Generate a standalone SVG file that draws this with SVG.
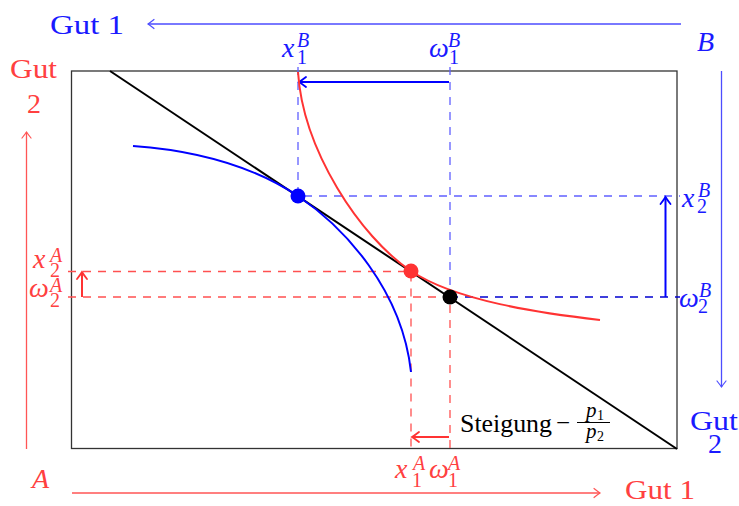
<svg xmlns="http://www.w3.org/2000/svg" width="739" height="506" viewBox="0 0 739 506">
<style>
text{font-family:"Liberation Serif","DejaVu Serif",serif;}
.m{font-style:italic;}
.big{font-size:28px;}
.sup{font-size:20px;}
.bl{fill:#1a1aff;}
.rd{fill:#ff4040;}
.dashB{stroke:#6060ff;stroke-width:1.3;stroke-dasharray:8 7;fill:none;}
.dashBd{stroke:#0000d0;stroke-width:1.3;stroke-dasharray:8 7;fill:none;}
.dashR{stroke:#ff5050;stroke-width:1.3;stroke-dasharray:8 7;fill:none;}
</style>
<defs>
<marker id="ab" viewBox="-9 -6 10 12" refX="0" refY="0" markerWidth="10" markerHeight="12" markerUnits="userSpaceOnUse" orient="auto" overflow="visible">
<path d="M-7 -5 Q-2.5 -1.5 0 0 Q-2.5 1.5 -7 5" fill="none" stroke="#0000ff" stroke-width="1.8" stroke-linecap="round"/>
</marker>
<marker id="abl" viewBox="-9 -6 10 12" refX="0" refY="0" markerWidth="10" markerHeight="12" markerUnits="userSpaceOnUse" orient="auto" overflow="visible">
<path d="M-6 -4.5 Q-2 -1.3 0 0 Q-2 1.3 -6 4.5" fill="none" stroke="#4d4dff" stroke-width="1.2" stroke-linecap="round"/>
</marker>
<marker id="ar" viewBox="-9 -6 10 12" refX="0" refY="0" markerWidth="10" markerHeight="12" markerUnits="userSpaceOnUse" orient="auto" overflow="visible">
<path d="M-7 -5 Q-2.5 -1.5 0 0 Q-2.5 1.5 -7 5" fill="none" stroke="#ff3333" stroke-width="1.8" stroke-linecap="round"/>
</marker>
<marker id="arl" viewBox="-9 -6 10 12" refX="0" refY="0" markerWidth="10" markerHeight="12" markerUnits="userSpaceOnUse" orient="auto" overflow="visible">
<path d="M-6 -4.5 Q-2 -1.3 0 0 Q-2 1.3 -6 4.5" fill="none" stroke="#ff5555" stroke-width="1.2" stroke-linecap="round"/>
</marker>
</defs>
<rect width="739" height="506" fill="#ffffff"/>

<g id="box">
<rect x="71.5" y="71" width="605.5" height="377.5" fill="none" stroke="#333333" stroke-width="1.3"/>
</g>

<g id="axes">
<line x1="681" y1="24" x2="148" y2="24" stroke="#4d4dff" stroke-width="1.3" marker-end="url(#abl)"/>
<line x1="721.5" y1="71" x2="721.5" y2="387" stroke="#4d4dff" stroke-width="1.3" marker-end="url(#abl)"/>
<line x1="26.5" y1="449" x2="26.5" y2="132" stroke="#ff5555" stroke-width="1.3" marker-end="url(#arl)"/>
<line x1="72" y1="493" x2="600" y2="493" stroke="#ff5555" stroke-width="1.3" marker-end="url(#arl)"/>
</g>

<g id="connectors">
<path class="dashB" d="M298 67 V196 H680"/>
<path class="dashB" d="M450 67 V297"/>
<path class="dashBd" d="M450 297 H680"/>
<path class="dashR" d="M68 271.5 H411 V453"/>
<path class="dashR" d="M68 297 H450 V453"/>
<line x1="449" y1="82" x2="299" y2="82" stroke="#0000ff" stroke-width="2" marker-end="url(#ab)"/>
<line x1="665.5" y1="297" x2="665.5" y2="197" stroke="#0000ff" stroke-width="2" marker-end="url(#ab)"/>
<line x1="449" y1="437" x2="412" y2="437" stroke="#ff3333" stroke-width="2" marker-end="url(#ar)"/>
<line x1="82" y1="297" x2="82" y2="272" stroke="#ff3333" stroke-width="2" marker-end="url(#ar)"/>
</g>

<g id="budget">
<line x1="110" y1="71" x2="677" y2="449" stroke="#000000" stroke-width="2"/>
</g>

<g id="curveB">
<path d="M133 146 C190 150 248 163 298 196 C345 228 402 290 411 372" fill="none" stroke="#0000ff" stroke-width="2"/>
</g>
<g id="curveA">
<path d="M298 72 C303 150 360 237 411 271 C456 301 540 313 600 320" fill="none" stroke="#ff3333" stroke-width="2"/>
</g>

<g id="dotB"><circle cx="298" cy="196" r="7.5" fill="#0000ff"/></g>
<g id="dotA"><circle cx="411" cy="271" r="7.5" fill="#ff3333"/></g>
<g id="dotE"><circle cx="450" cy="297" r="7.5" fill="#000000"/></g>

<g id="labels">
<text class="big bl" x="50" y="34" textLength="74" lengthAdjust="spacingAndGlyphs">Gut 1</text>
<text class="big bl m" x="697" y="51">B</text>
<text class="big rd" x="10" y="78" textLength="47" lengthAdjust="spacingAndGlyphs">Gut</text>
<text class="big rd" x="34" y="113" text-anchor="middle">2</text>
<text class="big bl" x="690" y="430" textLength="48" lengthAdjust="spacingAndGlyphs">Gut</text>
<text class="big bl" x="715" y="453" text-anchor="middle">2</text>
<text class="big rd m" x="32" y="488">A</text>
<text class="big rd" x="625" y="499" textLength="70" lengthAdjust="spacingAndGlyphs">Gut 1</text>

<text class="bl"><tspan class="big m" x="282" y="57">x</tspan><tspan class="sup m" x="297" y="47">B</tspan><tspan class="sup" x="297" y="64">1</tspan></text>
<text class="bl"><tspan class="big m" x="429" y="57">ω</tspan><tspan class="sup m" x="448" y="47">B</tspan><tspan class="sup" x="449" y="64">1</tspan></text>

<text class="bl"><tspan class="big m" x="682" y="207">x</tspan><tspan class="sup m" x="698" y="197">B</tspan><tspan class="sup" x="697" y="213">2</tspan></text>
<text class="bl"><tspan class="big m" x="679" y="307">ω</tspan><tspan class="sup m" x="699" y="297">B</tspan><tspan class="sup" x="698" y="313">2</tspan></text>

<text class="rd"><tspan class="big m" x="33" y="268">x</tspan><tspan class="sup m" x="50" y="262">A</tspan><tspan class="sup" x="50" y="277">2</tspan></text>
<text class="rd"><tspan class="big m" x="29" y="297">ω</tspan><tspan class="sup m" x="50" y="292">A</tspan><tspan class="sup" x="50" y="307">2</tspan></text>

<text class="rd"><tspan class="big m" x="395" y="478">x</tspan><tspan class="sup m" x="413" y="470">A</tspan><tspan class="sup" x="412" y="487">1</tspan></text>
<text class="rd"><tspan class="big m" x="429" y="478">ω</tspan><tspan class="sup m" x="448" y="470">A</tspan><tspan class="sup" x="448" y="487">1</tspan></text>

<text x="460" y="432" font-size="25" fill="#000" textLength="92" lengthAdjust="spacingAndGlyphs">Steigung</text>
<text x="556" y="431" font-size="25" fill="#000">−</text>
<text fill="#000"><tspan x="586" y="417" font-size="21" font-style="italic">p</tspan><tspan x="597" y="420" font-size="14">1</tspan></text>
<line x1="577" y1="422.5" x2="610" y2="422.5" stroke="#000" stroke-width="1.2"/>
<text fill="#000"><tspan x="586" y="438" font-size="21" font-style="italic">p</tspan><tspan x="597" y="441" font-size="14">2</tspan></text>
</g>
</svg>
